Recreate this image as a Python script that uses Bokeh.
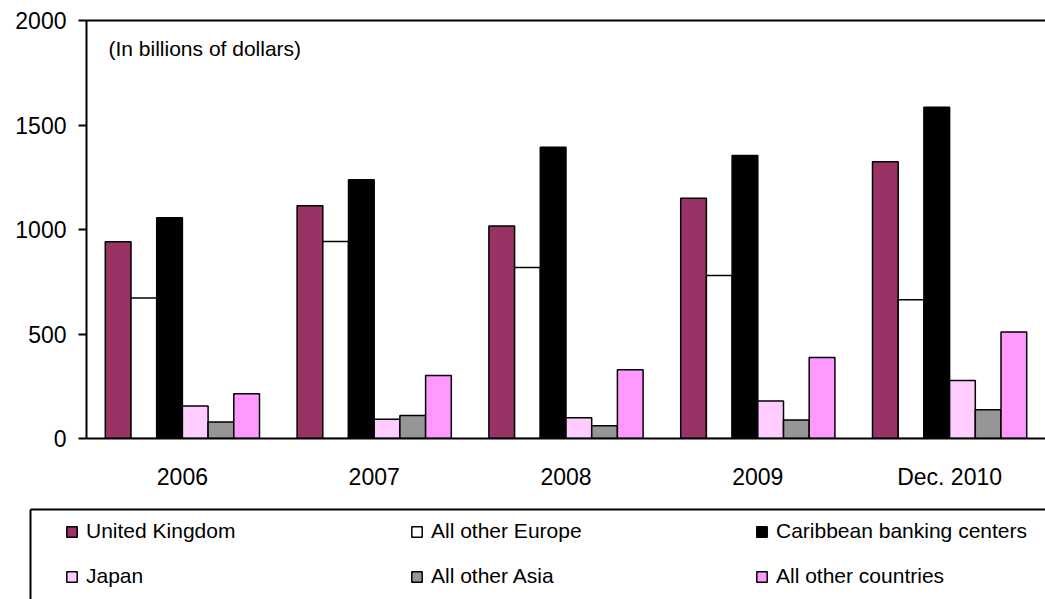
from bokeh.plotting import figure
from bokeh.models import (FactorRange, Range1d, LinearAxis, FixedTicker, Label,
                          Legend, LegendItem, ColumnDataSource)
from bokeh.transform import dodge
from bokeh.embed import file_html
from bokeh.resources import INLINE

# ---- data (billions of dollars) ----
years = ["2006", "2007", "2008", "2009", "Dec. 2010"]
united_kingdom = [941, 1114, 1017, 1149, 1324]
all_other_europe = [672, 942, 818, 780, 664]
caribbean = [1056, 1238, 1393, 1354, 1585]
japan = [156, 92, 99, 180, 278]
all_other_asia = [79, 110, 61, 89, 137]
all_other_countries = [214, 301, 329, 388, 510]
y_ticks = [0, 500, 1000, 1500, 2000]

series_names = ["United Kingdom", "All other Europe", "Caribbean banking centers",
                "Japan", "All other Asia", "All other countries"]
series_values = [united_kingdom, all_other_europe, caribbean, japan,
                 all_other_asia, all_other_countries]
series_colors = ["#993366", "#FFFFFF", "#000000", "#FFCCFF", "#969696", "#FF99FF"]

FONT = "Liberation Sans"

data = dict(year=years)
for i, vals in enumerate(series_values):
    data["s%d" % i] = vals
src = ColumnDataSource(data)

p = figure(width=1045, height=500, x_range=FactorRange(*years, range_padding=0),
           y_range=Range1d(0, 2000), output_backend="svg", toolbar_location=None,
           min_border_left=86, min_border_right=0, min_border_top=20,
           min_border_bottom=62)
p.outline_line_color = None
p.xgrid.grid_line_color = None
p.ygrid.grid_line_color = None
p.background_fill_color = "white"
p.border_fill_color = "white"

w = 0.134
for i, (name, color) in enumerate(zip(series_names, series_colors)):
    off = (i - 2.5) * w
    p.vbar(x=dodge("year", off, range=p.x_range), top="s%d" % i, width=w,
           source=src, fill_color=color, line_color="black", line_width=1.5)

# axes styling
xa = p.xaxis[0]
xa.major_tick_line_color = None
xa.minor_tick_line_color = None
xa.axis_line_width = 2
xa.axis_line_color = "black"
xa.major_label_text_font = FONT
xa.major_label_text_font_size = "23px"
xa.major_label_text_color = "black"
xa.major_label_standoff = 19

ya = p.yaxis[0]
ya.ticker = FixedTicker(ticks=y_ticks)
ya.major_tick_out = 8
ya.major_tick_in = 0
ya.major_tick_line_width = 2
ya.minor_tick_line_color = None
ya.axis_line_width = 2
ya.major_label_text_font = FONT
ya.major_label_text_font_size = "23px"
ya.major_label_text_color = "black"
ya.major_label_standoff = 12

top_axis = LinearAxis(ticker=FixedTicker(ticks=[]), axis_line_width=2,
                      major_tick_out=0, major_tick_in=0, major_label_standoff=0,
                      major_label_text_font_size="0px", minor_tick_line_color=None)
p.add_layout(top_axis, "above")

p.add_layout(Label(x=22, y=390, x_units="screen", y_units="screen",
                   text="(In billions of dollars)", text_font=FONT,
                   text_font_size="21px", text_baseline="middle", text_align="left",
                   text_color="black"))

# ---- legend panel (separate root so that its frame is not aligned) ----
q = figure(width=1045, height=99, x_range=FactorRange(*years), y_range=Range1d(0, 1),
           output_backend="svg", toolbar_location=None, x_axis_type=None,
           y_axis_type=None, min_border_left=30, min_border_right=0,
           min_border_top=9, min_border_bottom=0)
q.outline_line_color = None
q.xgrid.grid_line_color = None
q.ygrid.grid_line_color = None
for loc in ("left", "above"):
    q.add_layout(LinearAxis(ticker=FixedTicker(ticks=[]), axis_line_width=2,
                            major_tick_out=0, major_tick_in=0, major_label_standoff=0,
                            major_label_text_font_size="0px",
                            minor_tick_line_color=None), loc)

items = []
for i, (name, color) in enumerate(zip(series_names, series_colors)):
    r = q.vbar(x="year", top="s%d" % i, width=0.1, source=src, fill_color=color,
               line_color="black", line_width=1.5, visible=False)
    items.append(LegendItem(label=name, renderers=[r]))

leg = Legend(items=items, ncols=3, orientation="horizontal", location=(35, 11),
             border_line_color=None, background_fill_alpha=0,
             glyph_width=13, glyph_height=13, label_standoff=8, label_width=303,
             label_height=24, spacing=21, padding=0, margin=0,
             label_text_font=FONT, label_text_font_size="21px",
             label_text_color="black", label_text_baseline="middle",
             inactive_fill_alpha=0)
q.add_layout(leg, "center")

open("out.html", "w").write(file_html([p, q], INLINE))
